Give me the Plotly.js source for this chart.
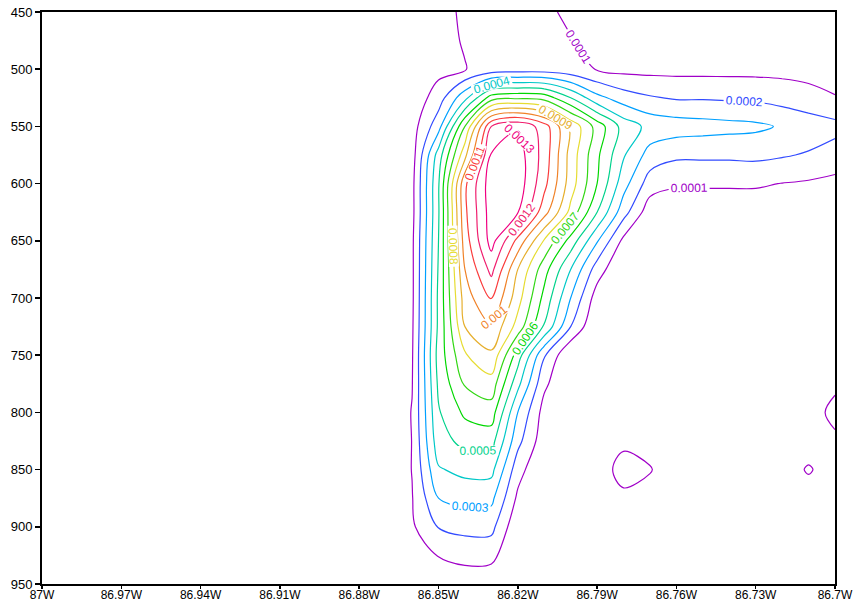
<!DOCTYPE html>
<html>
<head>
<meta charset="utf-8">
<script src="https://cdn.plot.ly/plotly-3.0.1.min.js"></script>
<style>
  html, body { margin: 0; padding: 0; background: #ffffff; }
  #chart { width: 855px; height: 603px; }
</style>
</head>
<body>
<div id="chart"></div>
<script>
// Longitudes (degrees east; west is negative)
const lon = [-87.00, -86.99, -86.98, -86.97, -86.96, -86.95, -86.94, -86.93, -86.92, -86.91,
             -86.90, -86.89, -86.88, -86.87, -86.86, -86.85, -86.84, -86.83, -86.82, -86.81,
             -86.80, -86.79, -86.78, -86.77, -86.76, -86.75, -86.74, -86.73, -86.72, -86.71, -86.70];

// Pressure levels (hPa)
const pressure = [450, 475, 500, 525, 550, 575, 600, 625, 650, 675, 700,
                  725, 750, 775, 800, 825, 850, 875, 900, 925, 950];

// Field values, in units of 1e-4 (one row per pressure level)
const fieldE4 = [
  [0,0,0,0,0,0,0,0,0,0,0,0,0, 0,0.2,0.6,1.2,1.4,1.4,1.2,0.8,0.5,0.3,0.2,0.2,0.2,0.2,0.2,0.2,0.2,0.2],
  [0,0,0,0,0,0,0,0,0,0,0,0,0, 0,0.2,0.6,1.1,1.5,1.5,1.4,1.05,0.7,0.5,0.4,0.4,0.4,0.4,0.4,0.4,0.4,0.4],
  [0,0,0,0,0,0,0,0,0,0,0,0,0, 0,0.3,0.7,0.95,1.4,1.5,1.5,1.3,0.95,0.7,0.7,0.7,0.7,0.7,0.7,0.7,0.7,0.6],
  [0,0,0,0,0,0,0,0,0,0,0,0,0, 0,0.3,1.5,3.7,6.5,6.8,6.6,5.0,3.3,2.5,2.1,1.9,1.9,1.85,1.8,1.6,1.3,1.05],
  [0,0,0,0,0,0,0,0,0,0,0,0,0, 0,0.55,2.6,7.0,12.0,12.9,11.5,8.8,6.6,4.6,3.7,3.5,3.4,3.3,3.2,2.9,2.6,2.3],
  [0,0,0,0,0,0,0,0,0,0,0,0,0, 0,0.55,4.45,8.7,13.1,13.5,11.6,8.6,6.2,4.1,2.6,2.2,2.2,2.2,2.25,2.1,1.9,1.6],
  [0,0,0,0,0,0,0,0,0,0,0,0,0, 0,0.7,4.9,10.8,13.6,13.6,11.3,8.5,6.0,3.4,1.5,1.1,1.1,1.1,1.1,0.98,0.88,0.72],
  [0,0,0,0,0,0,0,0,0,0,0,0,0, 0,0.7,4.9,10.8,13.5,13.05,10.4,7.7,5.0,2.4,0.4,0.45,0.5,0.5,0.5,0.5,0.45,0.4],
  [0,0,0,0,0,0,0,0,0,0,0,0,0, 0,0.8,5.0,10.5,13.4,10.7,7.9,5.6,3.1,0.75,0,0.1,0.1,0.1,0.1,0.1,0.1,0.1],
  [0,0,0,0,0,0,0,0,0,0,0,0,0, 0,0.8,5.1,10.0,12.3,9.0,6.4,4.0,1.5,0,0,0,0,0,0,0,0,0],
  [0,0,0,0,0,0,0,0,0,0,0,0,0, 0,0.8,5.2,9.5,11.1,8.4,5.7,3.0,0.5,0,0,0,0,0,0,0,0,0],
  [0,0,0,0,0,0,0,0,0,0,0,0,0, 0,0.85,5.2,9.0,9.9,7.6,4.9,2.0,0,0,0,0,0,0,0,0,0,0],
  [0,0,0,0,0,0,0,0,0,0,0,0,0, 0,0.9,5.4,7.9,8.8,5.5,2.1,0,0,0,0,0,0,0,0,0,0,0],
  [0,0,0,0,0,0,0,0,0,0,0,0,0, 0,0.95,5.2,7.1,7.6,4.3,1.2,0,0,0,0,0,0,0,0,0,0,0.6],
  [0,0,0,0,0,0,0,0,0,0,0,0,0, 0,1.05,4.9,6.2,6.5,3.0,0.6,0,0,0,0,0,0,0,0,0,0,1.6],
  [0,0,0,0,0,0,0,0,0,0,0,0,0, 0,1.02,4.6,5.3,5.4,2.3,0.4,0,0,0.6,0.4,0,0,0,0,0,0,0.6],
  [0,0,0,0,0,0,0,0,0,0,0,0,0, 0,1.03,3.9,4.3,4.3,1.4,0,0,0,1.7,1.1,0,0,0,0,0,1.2,0],
  [0,0,0,0,0,0,0,0,0,0,0,0,0, 0,0.95,3.0,3.3,3.25,0.8,0,0,0,0.6,0.4,0,0,0,0,0,0,0],
  [0,0,0,0,0,0,0,0,0,0,0,0,0, 0,0.85,2.05,2.3,2.3,0.2,0,0,0,0,0,0,0,0,0,0,0,0],
  [0,0,0,0,0,0,0,0,0,0,0,0,0, 0,0.3,1.05,1.35,1.3,0,0,0,0,0,0,0,0,0,0,0,0,0],
  [0,0,0,0,0,0,0,0,0,0,0,0,0, 0,0,0.2,0.35,0.3,0,0,0,0,0,0,0,0,0,0,0,0,0]
];
const fieldUnit = 1e-4;

// Contour levels and their colours (0.0001 ... 0.0013)
const levelStart = 0.0001;
const levelEnd = 0.0013;
const levelStep = 0.0001;
const levelColors = [
  'rgb(160,0,200)', 'rgb(50,75,255)', 'rgb(0,160,255)', 'rgb(0,200,200)',
  'rgb(0,210,140)', 'rgb(0,215,0)', 'rgb(50,215,20)', 'rgb(230,220,50)',
  'rgb(230,175,45)', 'rgb(240,130,40)', 'rgb(250,60,60)', 'rgb(240,30,110)',
  'rgb(240,0,130)'
];

// Axis ticks
const xTickVals = [-87, -86.97, -86.94, -86.91, -86.88, -86.85, -86.82, -86.79, -86.76, -86.73, -86.7];
const xTickText = ['87W', '86.97W', '86.94W', '86.91W', '86.88W', '86.85W', '86.82W', '86.79W', '86.76W', '86.73W', '86.7W'];
const yTickVals = [450, 500, 550, 600, 650, 700, 750, 800, 850, 900, 950];

const z = fieldE4.map(row => row.map(v => v * fieldUnit));
const colorscale = levelColors.map((c, k) => [k / (levelColors.length - 1), c]);

const trace = {
  type: 'contour',
  x: lon,
  y: pressure,
  z: z,
  colorscale: colorscale,
  showscale: false,
  autocontour: false,
  contours: {
    start: levelStart,
    end: levelEnd,
    size: levelStep,
    coloring: 'lines',
    showlabels: true,
    labelformat: '.4~f',
    labelfont: { family: 'Liberation Sans, Arial, sans-serif', size: 12 }
  },
  line: { width: 1.2, smoothing: 1 },
  hoverinfo: 'skip'
};

const font = { family: 'Liberation Sans, Arial, sans-serif', size: 13, color: '#000' };
const xFont = { family: 'Liberation Sans, Arial, sans-serif', size: 12, color: '#000' };

const layout = {
  width: 855,
  height: 603,
  margin: { l: 42, r: 20, t: 12, b: 19 },
  paper_bgcolor: '#ffffff',
  plot_bgcolor: '#ffffff',
  font: font,
  showlegend: false,
  xaxis: {
    range: [-87, -86.7],
    tickvals: xTickVals,
    ticktext: xTickText,
    ticks: 'outside',
    ticklen: 3,
    tickwidth: 1.5,
    tickcolor: '#000',
    ticklabelstandoff: -4,
    showline: true,
    linecolor: '#000',
    linewidth: 2,
    mirror: true,
    showgrid: false,
    zeroline: false,
    tickfont: xFont
  },
  yaxis: {
    range: [950, 450],
    tickvals: yTickVals,
    ticks: 'outside',
    ticklen: 5,
    tickwidth: 1.5,
    tickcolor: '#000',
    showline: true,
    linecolor: '#000',
    linewidth: 2,
    mirror: true,
    showgrid: false,
    zeroline: false,
    tickfont: font
  }
};

Plotly.newPlot('chart', [trace], layout, { displayModeBar: false, staticPlot: true });
</script>
</body>
</html>
